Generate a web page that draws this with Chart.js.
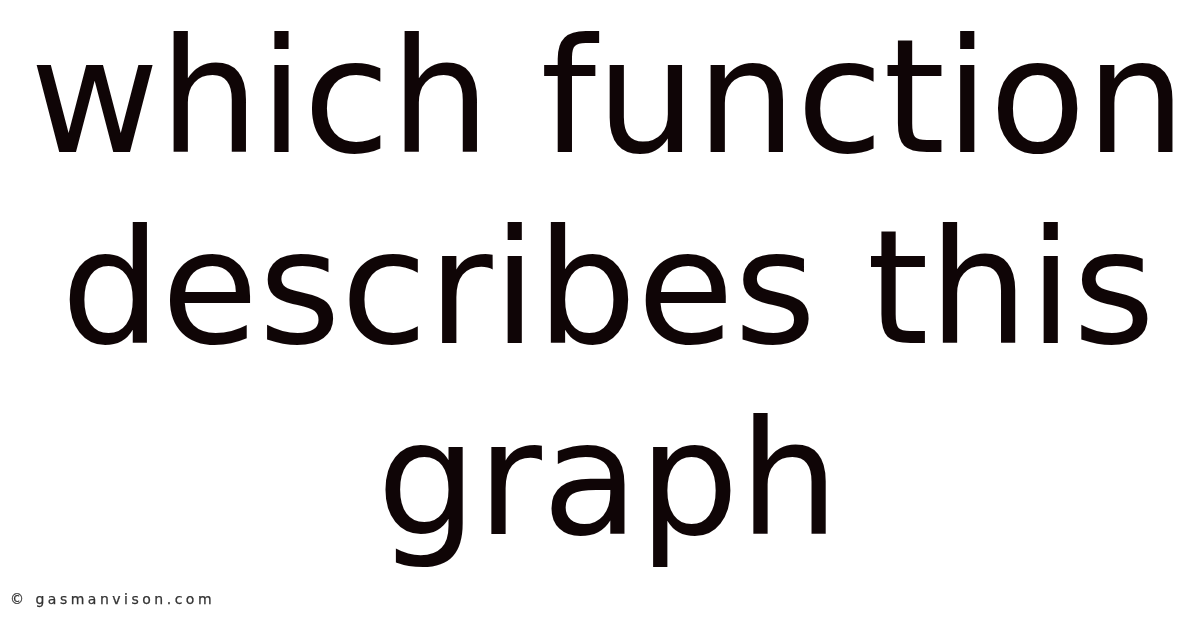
<!DOCTYPE html>
<html>
<head>
<meta charset="utf-8">
<script src="https://cdn.jsdelivr.net/npm/chart.js@4/dist/chart.umd.min.js"></script>
<style>
  html, body { margin: 0; padding: 0; background: #ffffff; }
  #wrap { position: relative; width: 1200px; height: 628px; overflow: hidden; }
  #c { display: block; }
  #mark { position: absolute; left: 10px; top: 591px; font-family: "DejaVu Sans", sans-serif;
          font-size: 14px; letter-spacing: 3.5px; color: #333333; white-space: nowrap; line-height: 17px;
          -webkit-text-stroke: 0.25px #333333; }
</style>
</head>
<body>
<div id="wrap">
  <canvas id="c" width="1200" height="628"></canvas>
  <div id="mark">© gasmanvison.com</div>
</div>
<script>
const titleLines = ["which function", "describes this", "graph"];
const categories = [];
const seriesValues = [];

new Chart(document.getElementById('c'), {
  type: 'bar',
  data: { labels: categories, datasets: [{ data: seriesValues }] },
  options: {
    responsive: false,
    animation: false,
    devicePixelRatio: 1,
    layout: { padding: { left: 16, right: 0, top: 0, bottom: 0 } },
    scales: { x: { display: false }, y: { display: false } },
    plugins: {
      legend: { display: false },
      tooltip: { enabled: false },
      title: {
        display: true,
        text: titleLines,
        color: '#0f0506',
        font: { family: 'DejaVu Sans', size: 158, weight: 'normal', lineHeight: 1.209 },
        padding: { top: 15, bottom: 0 },
        align: 'center'
      }
    }
  }
});
</script>
</body>
</html>
